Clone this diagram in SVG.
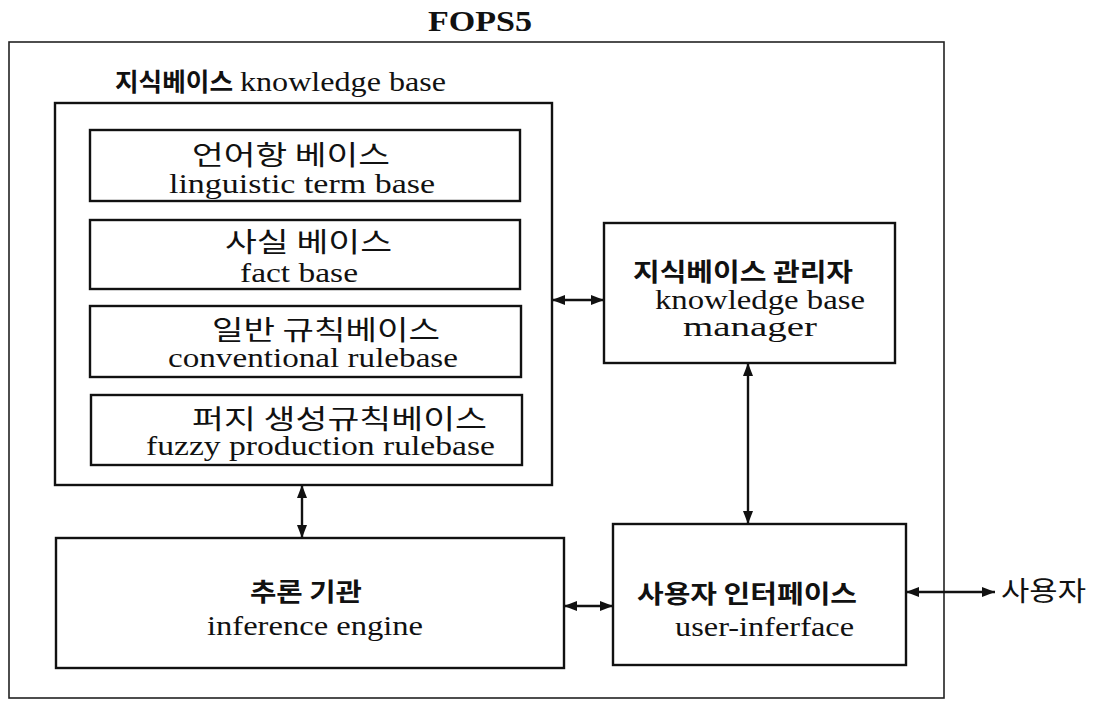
<svg xmlns="http://www.w3.org/2000/svg" width="1111" height="702" viewBox="0 0 1111 702">
<defs>
<style>
.box{fill:none;stroke:#111;stroke-width:2.4}
.thin{fill:none;stroke:#222;stroke-width:1.6}
.en{font-family:"Liberation Serif","Times New Roman",serif;font-size:27px;fill:#111}
.ko{font-family:"Noto Sans CJK KR",sans-serif;font-size:27px;fill:#111}
.kob{font-family:"Noto Sans CJK KR",sans-serif;font-size:25px;font-weight:bold;fill:#111}
.title{font-family:"Liberation Serif","Times New Roman",serif;font-size:30px;font-weight:bold;fill:#111}
.conn{stroke:#111;stroke-width:2.4;fill:none;marker-start:url(#ah);marker-end:url(#ah)}
</style>
<marker id="ah" markerUnits="userSpaceOnUse" markerWidth="14" markerHeight="10" refX="13" refY="5" orient="auto-start-reverse">
<path d="M0,0 L13,5 L0,10 z" fill="#111"/>
</marker>
</defs>
<rect width="1111" height="702" fill="#fff"/>
<g id="title">
<text class="title" x="480" y="31" text-anchor="middle" textLength="104" lengthAdjust="spacingAndGlyphs">FOPS5</text>
</g>
<g id="fops5-frame">
<rect class="thin" x="9" y="42" width="935" height="656"/>
</g>
<g id="knowledge-base">
<text x="115" y="91" class="kob" textLength="118" lengthAdjust="spacingAndGlyphs">지식베이스</text>
<text x="240" y="91" class="en" font-size="28" textLength="206" lengthAdjust="spacingAndGlyphs">knowledge base</text>
<rect class="box" x="55" y="103" width="497" height="382"/>
</g>
<g id="linguistic-term-base">
<rect class="box" x="90" y="130" width="430" height="71"/>
<text x="192" y="165" class="ko" textLength="198" lengthAdjust="spacingAndGlyphs">언어항 베이스</text>
<text x="169" y="193" class="en" textLength="266" lengthAdjust="spacingAndGlyphs">linguistic term base</text>
</g>
<g id="fact-base">
<rect class="box" x="90" y="220" width="430" height="69"/>
<text x="225" y="252" class="ko" textLength="167" lengthAdjust="spacingAndGlyphs">사실 베이스</text>
<text x="240" y="282" class="en" textLength="118" lengthAdjust="spacingAndGlyphs">fact base</text>
</g>
<g id="conventional-rulebase">
<rect class="box" x="90" y="306" width="431" height="71"/>
<text x="212" y="340" class="ko" textLength="228" lengthAdjust="spacingAndGlyphs">일반 규칙베이스</text>
<text x="168" y="367" class="en" textLength="290" lengthAdjust="spacingAndGlyphs">conventional rulebase</text>
</g>
<g id="fuzzy-production-rulebase">
<rect class="box" x="91" y="395" width="431" height="70"/>
<text x="192" y="429" class="ko" textLength="295" lengthAdjust="spacingAndGlyphs">퍼지 생성규칙베이스</text>
<text x="146" y="455" class="en" textLength="349" lengthAdjust="spacingAndGlyphs">fuzzy production rulebase</text>
</g>
<g id="kb-manager">
<rect class="box" x="604" y="223" width="291" height="140"/>
<text x="633" y="281" class="kob" textLength="220" lengthAdjust="spacingAndGlyphs">지식베이스 관리자</text>
<text x="655" y="309" class="en" textLength="210" lengthAdjust="spacingAndGlyphs">knowledge base</text>
<text x="683" y="336" class="en" textLength="134" lengthAdjust="spacingAndGlyphs">manager</text>
</g>
<g id="inference-engine">
<rect class="box" x="56" y="538" width="508" height="130"/>
<text x="250" y="601" class="kob" textLength="112" lengthAdjust="spacingAndGlyphs">추론 기관</text>
<text x="207" y="635" class="en" textLength="216" lengthAdjust="spacingAndGlyphs">inference engine</text>
</g>
<g id="user-interface">
<rect class="box" x="613" y="524" width="293" height="141"/>
<text x="637" y="603" class="kob" textLength="220" lengthAdjust="spacingAndGlyphs">사용자 인터페이스</text>
<text x="675" y="636" class="en" textLength="179" lengthAdjust="spacingAndGlyphs">user-inferface</text>
</g>
<g id="user">
<text x="1001" y="601" class="ko" textLength="85" lengthAdjust="spacingAndGlyphs">사용자</text>
</g>
<g id="connectors">
<line class="conn" x1="552" y1="300" x2="604" y2="300"/>
<line class="conn" x1="748" y1="363" x2="748" y2="524"/>
<line class="conn" x1="302" y1="485" x2="302" y2="538"/>
<line class="conn" x1="564" y1="606" x2="613" y2="606"/>
<line class="conn" x1="906" y1="592" x2="995" y2="592"/>
</g>
</svg>
